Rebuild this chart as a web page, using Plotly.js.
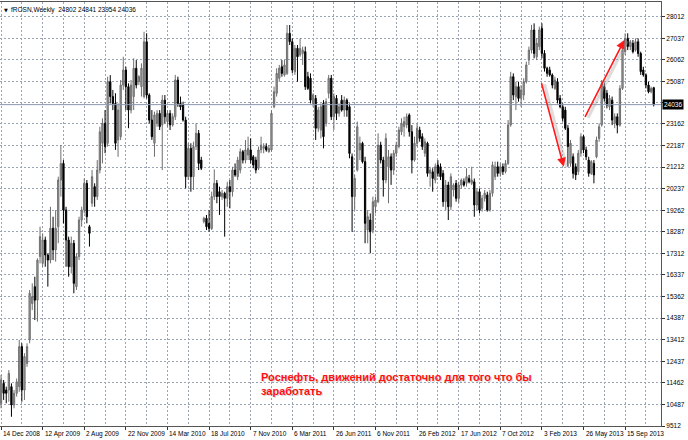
<!DOCTYPE html>
<html>
<head>
<meta charset="utf-8">
<script src="https://cdn.plot.ly/plotly-3.0.1.min.js"></script>
<style>
html,body{margin:0;padding:0;background:#fff;}
#chart{width:688px;height:440px;}
</style>
</head>
<body>
<div id="chart"></div>
<script>
// ---- data (weekly OHLC) ----
const symbolName = "fROSN,Weekly";
const xLabels = ["14 Dec 2008","12 Apr 2009","2 Aug 2009","22 Nov 2009","14 Mar 2010","18 Jul 2010","7 Nov 2010","6 Mar 2011","26 Jun 2011","6 Nov 2011","26 Feb 2012","17 Jun 2012","7 Oct 2012","3 Feb 2013","26 May 2013","15 Sep 2013"];
const yTicks = [9512,10487,11462,12437,13412,14387,15362,16337,17312,18287,19262,20237,21212,22187,23162,24137,25087,26062,27037,28012];
const yTickText = ["9512","10487","11462","12437","13412","14387","15362","16337","17312","18287","19262","20237","21212","22187","23162","","25087","26062","27037","28012"];

const openP = [10535,11440,11140,11140,11290,10460,10990,11290,13100,11140,12340,13400,15050,15810,15200,17170,16860,17920,17240,17010,18450,17470,18520,20630,21380,19270,17920,16710,17770,15810,17170,18820,19270,20480,18520,19580,20330,19880,21080,22290,23190,22290,25070,24400,24090,22440,22590,24920,25600,24850,23790,24400,25680,25070,24850,24400,26880,24470,23340,22290,23190,23640,23120,24240,23270,23640,23120,23490,25150,24090,24020,23340,20780,22060,20780,22140,22740,21530,18750,18900,18670,18440,19880,20480,20100,19880,20030,19800,20330,20100,21080,20780,21080,21910,21530,21760,21990,21680,21530,21160,21990,22060,22140,21910,21990,23940,24550,25230,25750,25380,25450,27260,26880,25520,26580,26280,26350,26430,25300,25230,24090,24320,22970,22890,24090,23190,24550,25230,23490,24320,23640,24240,23790,24240,23940,21680,19880,21080,21990,22290,21460,18370,18820,18370,19420,19650,22210,21530,20630,21230,21680,21080,21840,22140,22810,23040,23120,23570,22810,21530,22290,22890,22590,21840,22290,20930,21000,20630,21310,21230,20930,19650,20400,19420,20180,20480,19800,20400,20550,20480,20700,20480,20550,19500,20100,19350,19800,19950,19270,20030,20780,21230,20930,21230,21010,21380,23120,25300,24400,24850,24320,24470,25070,26050,26500,27410,26200,26660,27480,26350,25680,25600,25380,24770,25070,24320,23940,23790,22970,21380,21680,21230,21010,21840,22590,21990,21530,20930,21380,21680,22510,23120,24850,24550,23940,24240,23190,23490,23110,24770,26430,27030,26660,26810,26500,26880,26350,25600,25380,24920,24620,24802];
const highP = [11817,11590,11290,12040,11440,11140,11660,13400,13250,12800,13250,15660,15960,16260,17090,18520,18220,18070,17320,19420,18970,19270,20780,22210,21530,19420,18070,18070,17920,17320,18970,19420,20700,20630,18600,21080,20480,21530,23040,23420,23790,25300,25370,24700,24550,24090,25150,26200,25750,25000,25150,26130,26050,25370,25900,27330,27260,24550,23790,23720,23790,23790,24470,24470,23790,23790,23640,25380,25300,24400,24170,23490,22290,22290,22360,23190,22890,21680,18970,19050,19270,20100,21110,20630,20330,20180,20100,20550,20630,21230,21380,21680,22060,21990,22440,22590,22510,21760,21680,22140,22590,22290,22290,22210,23790,24850,25680,25830,26050,26050,27635,27635,27030,26730,26730,27030,26660,26660,25520,25450,24550,24470,23940,24090,24240,24320,25380,25380,24550,24470,24090,24470,24400,24320,24090,21830,20860,23270,22590,22360,21680,19270,19120,19880,19880,22740,22360,21680,22740,21990,21830,21990,22360,23040,23420,23490,23640,23640,23110,22590,23190,23040,22740,22510,22360,21230,21160,21380,21530,21380,21080,20630,20550,20930,20480,20630,20550,20700,20700,21160,20860,21230,20700,20250,20250,19950,20180,20100,20180,21460,21460,21460,21380,21380,21530,23340,25520,25450,25070,25070,24920,25230,25980,26660,27640,27710,27030,27560,27710,26500,25750,25750,25450,25300,25230,24470,24090,23940,23120,22440,21830,21380,21990,22740,22660,22140,21680,21530,21530,22590,23190,25150,24990,24700,24470,24400,23640,23640,24920,26660,27260,27260,26960,26960,27030,27030,26430,25750,25450,25070,24850,24841];
const lowP = [10310,10690,10540,10610,9930,10310,10840,11060,10610,10690,12190,13250,14750,14300,14230,16860,16710,16710,15810,16860,17010,16940,17770,19880,18670,16710,16260,16410,15510,15660,17010,18520,19120,18670,17620,19420,19420,19730,20930,21380,21840,22140,24090,23790,21990,21680,22440,24700,23790,22970,23640,23790,24770,24920,24400,24320,24320,23190,22440,21680,23040,22890,21080,23190,23040,22890,23040,23340,23940,23790,23270,20250,20630,20100,20180,21990,21080,21080,18670,18370,18290,18370,19730,19580,19050,19730,18070,19420,19350,19880,20780,20630,20930,21380,21380,21530,21380,21160,20930,21080,21840,21840,21910,21860,21910,23870,24400,25070,25300,25300,25380,26730,25450,25380,25070,26200,25830,24700,24700,24090,23940,22440,22810,22510,22060,23040,24320,23340,22890,23340,23490,23720,23490,23490,21610,18290,19270,21010,21530,21380,17770,17770,17320,18220,19120,19580,21380,19880,20480,19580,20410,20860,21680,22060,22660,22590,22970,22590,20930,21460,22140,22360,21990,21680,20780,20330,20100,20480,20780,20630,19420,19270,18820,19270,19880,19650,19580,20250,20330,20330,20480,20400,18970,19270,19120,19200,19650,19200,19200,19880,20630,20780,20780,20860,20930,21310,23040,24240,23790,24170,23940,24240,24990,25830,26350,26130,26050,26500,26130,25530,25300,25300,24770,24700,24090,23870,23270,22890,21230,21230,20700,20630,20860,21680,21840,21530,20780,20860,20480,21610,22360,23040,24170,23870,23790,23110,22970,22740,23040,24700,26280,26500,26500,26350,26430,26200,25380,25300,24770,24550,24550,23954];
const closeP = [11590,10990,10990,11890,10460,10990,11510,13100,11140,12650,13100,15510,15360,15200,17010,18070,17920,17240,17010,18450,17470,18450,20630,21380,19270,17920,16710,17770,15960,17170,18820,19270,20480,18970,18220,20780,19880,21080,22810,23190,22140,25070,24400,24090,22290,23790,24920,25600,24850,23790,24920,25680,24920,25300,25680,26880,24470,23340,22590,23570,23640,23040,24240,23490,23640,23120,23490,25150,24090,23940,23340,20780,22060,20780,22140,22740,21380,21160,18900,18520,18440,19880,20480,19880,19880,20030,19800,20330,20100,21080,20860,21530,21910,21530,21990,22060,21530,21310,21080,21990,22210,22140,21990,22060,23640,24620,25450,25680,25450,25830,27260,26880,25600,26580,26200,26580,26500,24850,24770,24240,24470,22970,23790,23940,22590,24170,25230,23490,24400,23640,23940,23790,24240,23790,21830,19880,20700,23040,22290,21460,18670,18970,18290,19650,19720,22210,21530,20630,22510,21680,21080,21840,22210,22890,23190,23270,23490,22810,21530,22290,22970,22510,22140,22360,20930,21080,20700,21230,20930,20780,19650,20400,19420,20780,20400,19800,20400,20630,20400,20780,20550,20630,19500,20100,19270,19800,20030,19270,20030,21310,21230,20930,21230,21010,21380,23120,25300,24470,24850,24320,24700,25070,25830,26500,27410,26350,26810,27410,26350,25680,25450,25380,24920,25150,24240,23940,23420,22970,22140,22290,20930,20860,21840,22590,21990,21680,20930,21460,20860,22440,23040,24990,24320,24020,24320,23340,23490,23110,24770,26500,27030,26660,26880,26430,26880,26350,25530,25380,24920,24620,24770,24036];

// arrows drawn on the chart: [tail bar, tail price, head bar, head price]
const arrowDown = [207.7, 25073, 216.4, 21231];
const arrowUp = [224.3, 23419, 239.7, 26957];
const noteText = "Роснефть, движений достаточно для того что бы<br>заработать";

// ---- build ----
const barIdx = openP.map((_, i) => i);
const last = openP.length - 1;
const lastClose = closeP[last];
const headerText = symbolName + "  " + openP[last] + " " + highP[last] + " " + lowP[last] + " " + closeP[last];
const xTickVals = xLabels.map((_, k) => k * 16);

const FONT = "Liberation Sans, Arial, sans-serif";
const FS = 6.5;
const GRID = "#9aa4b2";

const trace = {
  type: "candlestick",
  x: barIdx, open: openP, high: highP, low: lowP, close: closeP,
  increasing: {line: {color: "#6e6e6e", width: 1}, fillcolor: "#a0a0a0"},
  decreasing: {line: {color: "#000000", width: 1}, fillcolor: "#000000"},
  whiskerwidth: 0,
  hoverinfo: "skip",
  showlegend: false
};

function arrowPair(a) {
  const shadow = {
    x: a[2], y: a[3], ax: a[0], ay: a[1],
    xref: "x", yref: "y", axref: "x", ayref: "y",
    text: "", showarrow: true, arrowhead: 0, arrowwidth: 3,
    arrowcolor: "rgba(160,160,160,0.35)", xshift: 3, yshift: -1
  };
  const main = {
    x: a[2], y: a[3], ax: a[0], ay: a[1],
    xref: "x", yref: "y", axref: "x", ayref: "y",
    text: "", showarrow: true, arrowhead: 2, arrowsize: 1.1, arrowwidth: 1.6,
    arrowcolor: "#ff1a1a"
  };
  return [shadow, main];
}

const xLabelAnns = xLabels.map((t, k) => ({
  xref: "x", yref: "paper", x: xTickVals[k], y: 0,
  xanchor: "left", yanchor: "top", xshift: 0, yshift: -2,
  text: t, showarrow: false, font: {family: FONT, size: FS, color: "#000"}
}));

const layout = {
  width: 688, height: 440,
  margin: {l: 0, r: 27, t: 2, b: 14, pad: 0},
  paper_bgcolor: "#ffffff", plot_bgcolor: "#ffffff",
  showlegend: false,
  xaxis: {
    type: "linear",
    range: [-0.4, 253.8],
    rangeslider: {visible: false},
    tickmode: "array",
    tickvals: xTickVals,
    showticklabels: false,
    ticks: "outside", ticklen: 3, tickcolor: "#333",
    showgrid: true, gridcolor: GRID, griddash: "2px,2px", gridwidth: 1,
    minor: {tickmode: "linear", tick0: 0, dtick: 8, showgrid: true, gridcolor: GRID, griddash: "2px,2px", ticks: ""},
    showline: true, linecolor: "#555", linewidth: 1, mirror: true,
    zeroline: false, fixedrange: true, automargin: false
  },
  yaxis: {
    side: "right",
    range: [9512, 28675],
    tickmode: "array",
    tickvals: yTicks, ticktext: yTickText,
    ticks: "outside", ticklen: 3, tickcolor: "#333",
    tickfont: {family: FONT, size: FS, color: "#000"},
    showgrid: true, gridcolor: GRID, griddash: "2px,2px", gridwidth: 1,
    showline: true, linecolor: "#555", linewidth: 1, mirror: true,
    zeroline: false, fixedrange: true, automargin: false
  },
  shapes: [{
    type: "line", xref: "paper", x0: 0, x1: 1, yref: "y", y0: lastClose, y1: lastClose,
    line: {color: "#8a96ad", width: 1}
  }],
  annotations: [
    {xref: "paper", yref: "paper", x: 0, y: 1, xanchor: "left", yanchor: "top", xshift: 2, yshift: -3,
     text: "▼", showarrow: false, font: {family: "DejaVu Sans", size: 5, color: "#000"}},
    {xref: "paper", yref: "paper", x: 0, y: 1, xanchor: "left", yanchor: "top", xshift: 9, yshift: -2,
     text: headerText, showarrow: false, font: {family: FONT, size: FS, color: "#000"}},
    {xref: "paper", yref: "y", x: 1, y: lastClose, xanchor: "left", yanchor: "middle", xshift: 1,
     text: String(lastClose), showarrow: false, bgcolor: "#000", borderpad: 1,
     font: {family: FONT, size: FS, color: "#fff"}},
    ...xLabelAnns,
    ...arrowPair(arrowDown),
    ...arrowPair(arrowUp),
    {xref: "x", yref: "y", x: 99.2, y: 12000, xanchor: "left", yanchor: "top", xshift: 1.5, yshift: 0.5,
     text: noteText, showarrow: false, align: "left",
     font: {family: "Liberation Sans, Arial, sans-serif", size: 11, color: "rgba(0,0,0,0.18)", weight: "bold"}},
    {xref: "x", yref: "y", x: 99.2, y: 12000, xanchor: "left", yanchor: "top", yshift: 2,
     text: noteText, showarrow: false, align: "left",
     font: {family: "Liberation Sans, Arial, sans-serif", size: 11, color: "#ff1111", weight: "bold"}}
  ]
};

Plotly.newPlot("chart", [trace], layout, {displayModeBar: false, staticPlot: true});
</script>
</body>
</html>
